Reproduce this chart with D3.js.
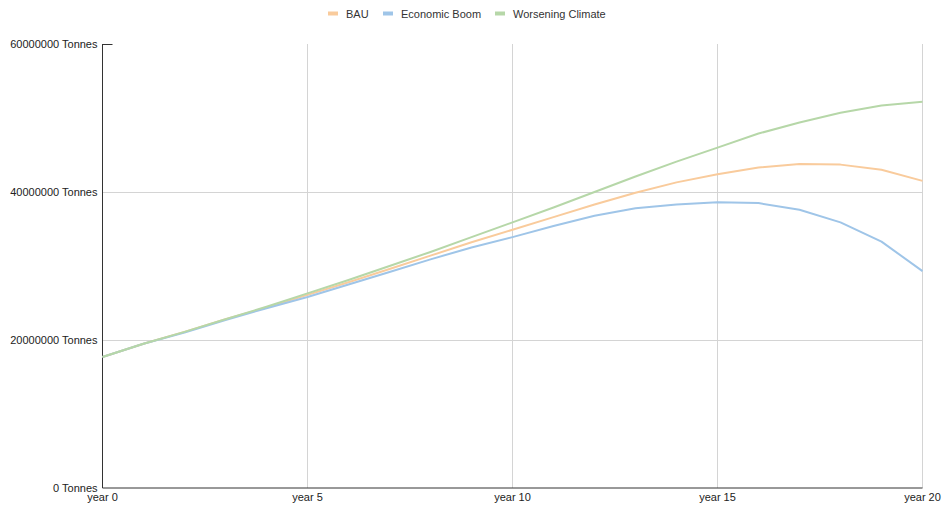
<!DOCTYPE html>
<html>
<head>
<meta charset="utf-8">
<script src="https://cdn.jsdelivr.net/npm/d3@7"></script>
<style>
  body { margin: 0; background: #fff; }
  svg { display: block; font-family: "Liberation Sans", Arial, sans-serif; }
</style>
</head>
<body>
<svg id="chart" width="943" height="507"></svg>
<script>
"use strict";

// data (millions of tonnes)
var years = d3.range(0, 21);
var bau = [17.7, 19.5, 21.1, 22.8, 24.4, 26.1, 27.8, 29.6, 31.4, 33.2, 34.9,
  36.6, 38.3, 39.9, 41.3, 42.4, 43.3, 43.8, 43.7, 43.0, 41.5];
var boom = [17.7, 19.5, 21.0, 22.7, 24.3, 25.8, 27.5, 29.2, 30.9, 32.5, 33.9,
  35.4, 36.8, 37.8, 38.3, 38.6, 38.5, 37.6, 35.9, 33.3, 29.3];
var worse = [17.7, 19.5, 21.1, 22.8, 24.5, 26.3, 28.1, 30.0, 31.9, 33.9, 35.9,
  37.9, 40.0, 42.1, 44.1, 46.0, 47.9, 49.4, 50.7, 51.7, 52.2];
var seriesNames = ["BAU", "Economic Boom", "Worsening Climate"];
var seriesColors = ["#f9cb9c", "#9fc5e8", "#b6d7a8"];
var yTicks = [0, 20000000, 40000000, 60000000];
var xTicks = [0, 5, 10, 15, 20];

function showChart() {
  var svg = d3.select("#chart");
  var margin = {left: 102.5, right: 20.5, top: 44, bottom: 19};
  var width = 943 - margin.left - margin.right;
  var height = 507 - margin.top - margin.bottom;

  var x = d3.scaleLinear().domain([0, 20]).range([0, width]);
  var y = d3.scaleLinear().domain([0, 60000000]).range([height, 0]);

  var g = svg.append("g")
    .attr("transform", "translate(" + margin.left + "," + margin.top + ")");

  // gridlines
  g.selectAll("line.hgrid")
    .data(yTicks.filter(function (d) { return d > 0 && d < 60000000; }))
    .enter().append("line")
    .attr("class", "hgrid")
    .attr("x1", 0).attr("x2", width)
    .attr("y1", function (d) { return Math.round(y(d)) + 0.5; })
    .attr("y2", function (d) { return Math.round(y(d)) + 0.5; })
    .style("stroke", "#d4d4d4");
  g.selectAll("line.vgrid")
    .data(xTicks.filter(function (d) { return d > 0; }))
    .enter().append("line")
    .attr("class", "vgrid")
    .attr("x1", function (d) { return x(d); })
    .attr("x2", function (d) { return x(d); })
    .attr("y1", 0).attr("y2", height)
    .style("stroke", "#d4d4d4");

  // axes
  g.append("line")
    .attr("x1", 0).attr("x2", 0).attr("y1", 0).attr("y2", height)
    .style("stroke", "#333");
  g.append("line")
    .attr("x1", 0).attr("x2", 10).attr("y1", 0.5).attr("y2", 0.5)
    .style("stroke", "#333");
  g.append("line")
    .attr("x1", 0).attr("x2", width).attr("y1", height).attr("y2", height)
    .style("stroke", "#333");

  g.selectAll("text.ylab")
    .data(yTicks)
    .enter().append("text")
    .attr("class", "ylab")
    .attr("x", -5)
    .attr("y", function (d) { return y(d) + 4; })
    .attr("text-anchor", "end")
    .style("font-size", "11px")
    .style("fill", "#222")
    .text(function (d) { return d + " Tonnes"; });

  g.selectAll("text.xlab")
    .data(xTicks)
    .enter().append("text")
    .attr("class", "xlab")
    .attr("x", function (d) { return x(d); })
    .attr("y", height + 13)
    .attr("text-anchor", "middle")
    .style("font-size", "11px")
    .style("fill", "#222")
    .text(function (d) { return "year " + d; });

  // lines
  var lineGen = d3.line()
    .x(function (d, i) { return x(years[i]); })
    .y(function (d) { return y(d * 1000000); });

  [bau, boom, worse].forEach(function (vals, i) {
    g.append("path")
      .attr("d", lineGen(vals))
      .style("fill", "none")
      .style("stroke", seriesColors[i])
      .style("stroke-width", 2)
      .style("stroke-linejoin", "round");
  });

  // legend
  var legendX = [328, 383, 495];
  var legend = svg.append("g");
  seriesNames.forEach(function (name, i) {
    legend.append("line")
      .attr("x1", legendX[i]).attr("x2", legendX[i] + 10)
      .attr("y1", 13.5).attr("y2", 13.5)
      .style("stroke", seriesColors[i])
      .style("stroke-width", 4);
    legend.append("text")
      .attr("x", legendX[i] + 18)
      .attr("y", 17.5)
      .style("font-size", "11px")
      .style("fill", "#333")
      .text(name);
  });
}

document.addEventListener("DOMContentLoaded", function () {
  showChart();
});
</script>
</body>
</html>
